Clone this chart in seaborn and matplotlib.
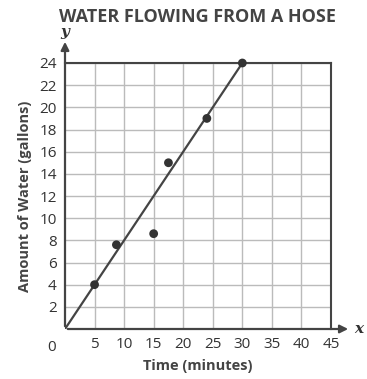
import matplotlib
matplotlib.use("Agg")
import matplotlib.pyplot as plt
import seaborn as sns
import pandas as pd

time_min = [5, 8.7, 15, 17.5, 24, 30]
water_gal = [4, 7.6, 8.6, 15, 19, 24]
line_x = [0, 30]
line_y = [0, 24]
x_ticks = [5, 10, 15, 20, 25, 30, 35, 40, 45]
y_ticks = [2, 4, 6, 8, 10, 12, 14, 16, 18, 20, 22, 24]

sns.set_style("white")
plt.rcParams['font.family'] = ['Open Sans', 'DejaVu Sans']

fig = plt.figure(figsize=(3.67, 3.79), dpi=100)
ax = fig.add_axes([65/367, 50/379, 266/367, 266/379])

dark = "#444444"
pts = pd.DataFrame({"t": time_min, "w": water_gal})
ln = pd.DataFrame({"t": line_x, "w": line_y})
sns.lineplot(data=ln, x="t", y="w", ax=ax, color=dark, lw=1.6, zorder=3)
sns.scatterplot(data=pts, x="t", y="w", ax=ax, color="#333333", s=40, edgecolor="none", zorder=4, clip_on=False)

ax.set_xlim(0, 45)
ax.set_ylim(0, 24)
ax.set_xticks(x_ticks)
ax.set_yticks(y_ticks)
ax.grid(True, color="#bbbbbb", lw=1.0)
ax.set_axisbelow(True)
for s in ["top", "right"]:
    ax.spines[s].set_color(dark)
    ax.spines[s].set_linewidth(1.5)
for s in ["left", "bottom"]:
    ax.spines[s].set_visible(False)
ax.tick_params(axis="both", length=0, labelsize=11, labelcolor="#333333")
ax.tick_params(axis="x", pad=6)
ax.tick_params(axis="y", pad=6)
ax.set_xlabel("Time (minutes)", fontsize=10.5, fontweight="bold", color=dark, labelpad=5)
ax.set_ylabel("Amount of Water (gallons)", fontsize=10.5, fontweight="bold", color=dark, labelpad=5)

# axes with arrows
ax.annotate("", xy=(1.075, 0), xytext=(0, 0), xycoords="axes fraction",
            arrowprops=dict(arrowstyle="-|>", color=dark, lw=1.6, mutation_scale=12), clip_on=False)
ax.annotate("", xy=(0, 1.09), xytext=(0, 0), xycoords="axes fraction",
            arrowprops=dict(arrowstyle="-|>", color=dark, lw=1.6, mutation_scale=12), clip_on=False)
ax.text(1.105, 0.0, "x", transform=ax.transAxes, fontsize=11, fontstyle="italic", fontweight="bold",
        family="DejaVu Serif", color="#333333", ha="center", va="center")
ax.text(0.0, 1.115, "y", transform=ax.transAxes, fontsize=11, fontstyle="italic", fontweight="bold",
        family="DejaVu Serif", color="#333333", ha="center", va="center")
ax.text(-0.05, -0.04, "0", transform=ax.transAxes, fontsize=11, color="#333333", ha="center", va="top")

fig.text(0.537, 0.955, "WATER FLOWING FROM A HOSE", ha="center", va="center",
         fontsize=13, fontweight="bold", color=dark)

fig.savefig("out.png", dpi=100)
